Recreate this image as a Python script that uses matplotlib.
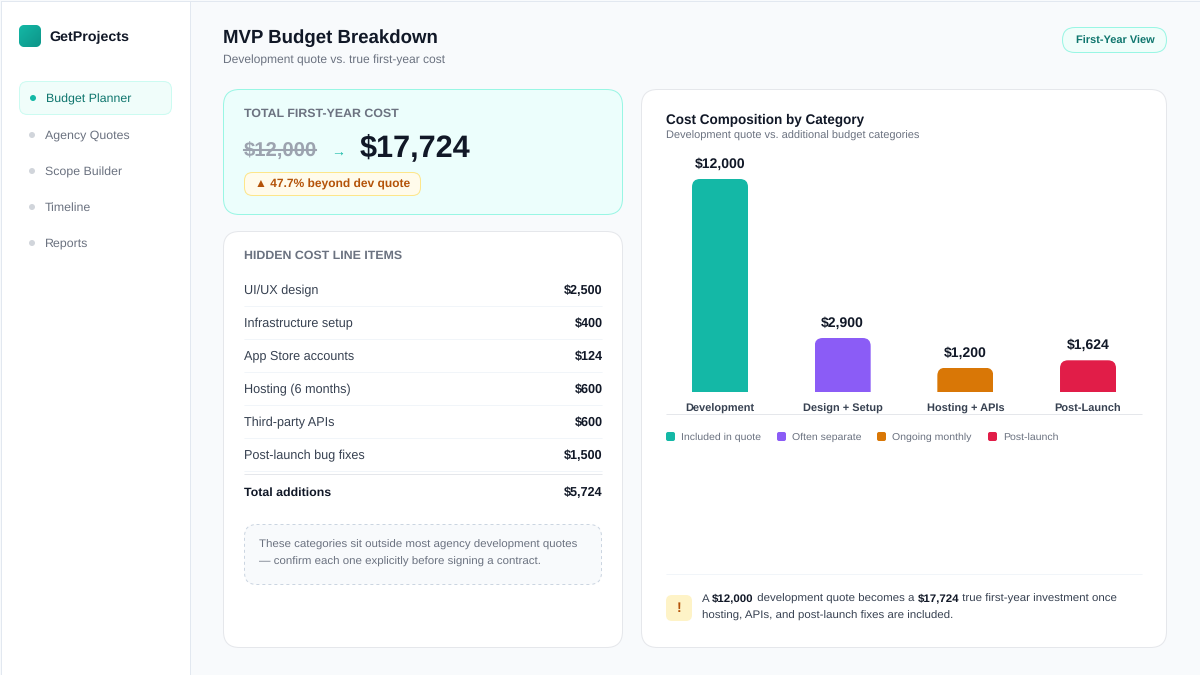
import numpy as np
import matplotlib
matplotlib.use("Agg")
import matplotlib.pyplot as plt
from matplotlib.patches import FancyBboxPatch, Rectangle, Circle, PathPatch
from matplotlib.path import Path

plt.rcParams['font.family'] = ['Liberation Sans', 'DejaVu Sans']
plt.rcParams['text.hinting'] = 'no_hinting'
plt.rcParams['text.hinting_factor'] = 8

brand = "GetProjects"
nav_items = ["Budget Planner", "Agency Quotes", "Scope Builder", "Timeline", "Reports"]
line_items = ["UI/UX design", "Infrastructure setup", "App Store accounts", "Hosting (6 months)", "Third-party APIs", "Post-launch bug fixes"]
line_costs = ["$2,500", "$400", "$124", "$600", "$600", "$1,500"]
categories = ["Development", "Design + Setup", "Hosting + APIs", "Post-Launch"]
values = [12000, 2900, 1200, 1624]
bar_colors = ["#14B8A6", "#8B5CF6", "#D97706", "#E11D48"]
legend_labels = ["Included in quote", "Often separate", "Ongoing monthly", "Post-launch"]

INK = "#111827"; BODY = "#374151"; MUTED = "#6B7280"; LINE = "#E5E7EB"

fig = plt.figure(figsize=(12, 6.75), dpi=100, facecolor="#F8FAFC")
ui = fig.add_axes([0, 0, 1, 1])
ui.set_xlim(0, 1200); ui.set_ylim(675, 0); ui.axis("off")

def box(x0, y0, x1, y1, r, fc, ec=None, lw=1, ls="-", z=1):
    p = FancyBboxPatch((x0, y0), x1 - x0, y1 - y0, boxstyle=f"round,pad=0,rounding_size={r}",
                       fc=fc, ec=ec if ec else "none", lw=lw * 0.72, ls=ls, zorder=z)
    ui.add_patch(p)
    return p

def T(x, y, s, px, color=INK, weight="normal", ha="left", z=5):
    return ui.text(x, y, s, fontsize=px * 0.72, color=color, fontweight=weight, ha=ha, va="baseline", zorder=z)

def hl(x0, x1, y, color=LINE, lw=1):
    ui.plot([x0, x1], [y, y], color=color, lw=lw * 0.72, solid_capstyle="butt", zorder=3)

def runs(x, y, parts, px, z=5):
    r = fig.canvas.get_renderer()
    for s, w, c, dy in parts:
        T(x, y + dy, s, px, c, w, z=z)
        a = T(0, -50, "|" + s + "|", px, c, w)
        b = T(0, -50, "||", px, c, w)
        x += a.get_window_extent(r).width - b.get_window_extent(r).width
        a.remove(); b.remove()

# sidebar
ui.add_patch(Rectangle((0.5, 0.5), 189.5, 674, fc="white", ec="#E2E8F0", lw=0.72, zorder=1))
ui.add_patch(Rectangle((0.5, 0.5), 1199, 674, fc="none", ec="#E2E8F0", lw=0.72, zorder=8))
logo = box(19, 25, 41, 47, 6, "#14B8A6", z=2)
grad = np.linspace(0, 1, 64)[None, :] + np.linspace(0, 1, 64)[:, None]
im = ui.imshow(grad, extent=(19, 41, 47, 25), cmap=matplotlib.colors.LinearSegmentedColormap.from_list("g", ["#14B8A6", "#0D9488"]), zorder=3, aspect="auto")
im.set_clip_path(logo)
ui.set_xlim(0, 1200); ui.set_ylim(675, 0)
T(49, 41, brand, 14.3, INK, "bold")

box(19.5, 81.5, 171.5, 114.5, 8, "#F0FDFA", "#CCFBF1", z=2)
nav_y = [98, 135, 171, 207, 243]
nav_nudge = [1, 0, 1, 0, 0]
for i, (n, y) in enumerate(zip(nav_items, nav_y)):
    active = i == 0
    ui.add_patch(Circle((33 if active else 32, y), 3, fc="#14B8A6" if active else "#D1D5DB", ec="none", zorder=4))
    T(46 if active else 45, y + 4 + nav_nudge[i], n, 12.4, "#0F766E" if active else MUTED)

# header
T(223, 43, "MVP Budget Breakdown", 18.6, INK, "bold")
T(223, 64, "Development quote vs. true first-year cost", 12, MUTED)
box(1062.5, 27.5, 1166.5, 52.5, 12.5, "#F0FDFA", "#99F6E4", z=2)
T(1115, 44, "First-Year View", 11, "#0F766E", "bold", ha="center")

# total card
box(223.5, 89.5, 622.5, 214.5, 16, "#ECFEFC", "#99F6E4", z=2)
T(244, 117, "TOTAL FIRST-YEAR COST", 12.35, MUTED, "bold")
T(244, 156, "$12,000", 20.3, "#9CA3AF", "bold")
ui.plot([244, 316], [150, 150], color="#9CA3AF", lw=1.5, zorder=6)
T(331, 157, "→", 14, "#14B8A6")
T(360, 156, "$17,724", 30.6, INK, "bold")
box(244.5, 172.5, 420.5, 195.5, 8, "#FFFBEB", "#FDE68A", z=3)
T(255, 188, "▲ 47.7% beyond dev quote", 12, "#B45309", "bold")

# hidden card
box(223.5, 231.5, 622.5, 647.5, 16, "white", LINE, z=2)
T(244, 259, "HIDDEN COST LINE ITEMS", 12.35, MUTED, "bold")
row_nudge = [0, 0, -1, 0, 0, 0]
for i, (n, c) in enumerate(zip(line_items, line_costs)):
    base = 294 + i * 33
    T(244, base + row_nudge[i], n, 12.6, BODY)
    T(602.5, base, c, 12.6, INK, "bold", ha="right")
    hl(244, 602, base + 12, "#F1F5F9")
hl(244, 602, 474, LINE)
T(244, 496, "Total additions", 12.45, INK, "bold")
T(602.5, 496, "$5,724", 12.6, INK, "bold", ha="right")
box(244.5, 524.5, 601.5, 584.5, 12, "#F8FAFC", "#CBD5E1", ls=(0, (3, 3)), z=3)
T(259, 548, "These categories sit outside most agency development quotes", 11.5, MUTED)
T(259, 565, "— confirm each one explicitly before signing a contract.", 11.5, MUTED)

# chart card
box(641.5, 89.5, 1166.5, 647.5, 16, "white", LINE, z=2)
T(666, 124, "Cost Composition by Category", 13.5, INK, "bold")
T(666, 138.6, "Development quote vs. additional budget categories", 11, MUTED)

# chart axes: bar centres at 720 + 122.67 i; baseline px 392, 12000 at px 179
left, right, top, bottom = 666, 1142, 150, 392
ax = fig.add_axes([left / 1200, 1 - bottom / 675, (right - left) / 1200, (bottom - top) / 675])
ax.patch.set_alpha(0)
ppx = 122.67
ax.set_xlim((left - 720) / ppx, (right - 720) / ppx)
per_px = (12000 - 2900) / 159.0
y_base = 12000 - 213 * per_px
ax.set_ylim(y_base, y_base + (bottom - top) * per_px)
for s in ax.spines.values():
    s.set_visible(False)
ax.set_yticks([])
xs = np.arange(len(categories))
bw = 56 / ppx
bars = ax.bar(xs, np.array(values) - y_base, bottom=y_base, width=bw, color=bar_colors, zorder=2)
rx, ry = 8 / ppx, 8 * per_px
for b in bars:
    x0, x1 = b.get_x(), b.get_x() + b.get_width()
    y0, y1 = b.get_y(), b.get_y() + b.get_height()
    clip = PathPatch(Path([(x0, y0), (x0, y1 - ry), (x0, y1), (x0 + rx, y1), (x1 - rx, y1), (x1, y1), (x1, y1 - ry), (x1, y0), (x0, y0)],
                          [1, 2, 3, 3, 2, 3, 3, 2, 79]), transform=ax.transData)
    b.set_clip_path(clip)
ax.bar_label(bars, labels=[f"${v:,}" for v in values], padding=6, fontsize=14 * 0.72, fontweight="bold", color=INK)
ax.set_xticks(xs, categories, fontsize=11 * 0.72, fontweight="bold", color=BODY)
ax.tick_params(axis="x", length=0, pad=14.4)
for lab in ax.get_xticklabels():
    lab.set_va("baseline")
hl(666, 1142, 414, LINE)

# legend
lx = [666, 777, 877, 988]
for x, lab, c in zip(lx, legend_labels, bar_colors):
    box(x, 432, x + 9, 441, 2, c, z=3)
    T(x + 15, 440, lab, 10.5, MUTED)

# insight
hl(666, 1142, 574, "#F1F5F9")
box(666, 595, 692, 621, 6, "#FEF3C7", z=3)
T(679, 612.5, "!", 14, "#B45309", "bold", ha="center")
runs(702, 602, [("A ", "normal", BODY, 0), ("$12,000", "bold", INK, -1), (" development quote becomes a ", "normal", BODY, 0),
                ("$17,724", "bold", INK, -1), (" true first-year investment once", "normal", BODY, 0)], 11.5)
T(702, 619, "hosting, APIs, and post-launch fixes are included.", 11.5, BODY)

fig.savefig("out.png", dpi=100, facecolor=fig.get_facecolor())
